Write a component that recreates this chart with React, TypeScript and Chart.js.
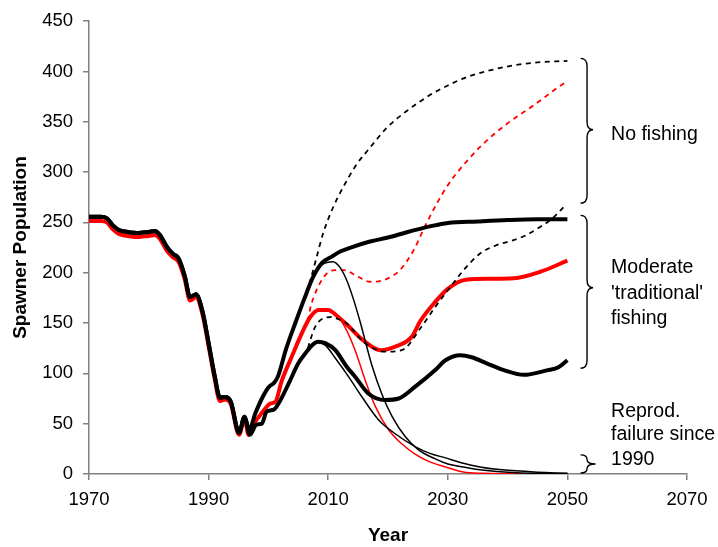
import React, { useEffect, useRef } from 'react';
import { Chart, registerables } from 'chart.js';

Chart.register(...registerables);

const FONT = '"Liberation Sans", Arial, Helvetica, sans-serif';

// Shared history, 1970–1996 (black = fitted stock, red = alternative fit)
const histYears = [1970, 1972, 1973, 1974, 1975, 1976, 1977, 1978, 1979, 1980, 1981, 1981.8, 1983, 1984, 1985, 1986, 1986.9, 1987.9, 1989, 1990, 1991, 1991.9, 1992.8, 1993.7, 1995.1, 1996];
const histBlack = [255.5, 255.5, 254, 247, 242.5, 241, 240, 239.5, 240, 240.5, 241.5, 238, 226, 219, 214, 197, 176, 178.5, 161, 130, 98, 76, 76.5, 72, 41, 57];
const histRed = [251.5, 251.5, 250, 243, 238.5, 237, 236, 235.5, 236, 236.5, 237.5, 234, 222, 215.5, 210.5, 193.5, 172.5, 175.5, 158, 127, 95, 72.5, 74, 69.5, 39, 55];

// Moderate fishing, high recruitment (thick black)
const highYears = [1996.8, 1997.8, 1999, 2000, 2001, 2001.6, 2003, 2004.5, 2006, 2007.5, 2009, 2010.6, 2012, 2014, 2017, 2020, 2023, 2027, 2030, 2035, 2040, 2045, 2050];
const highValues = [44, 60, 76, 86, 91, 97, 125, 150, 174, 196, 210, 216, 221, 225.5, 231, 235, 240, 246, 249.5, 251, 252.3, 253, 253];

// Moderate fishing, mid recruitment (thick red)
const midYears = [1996.7, 1997.5, 1998.3, 1999.2, 2000.3, 2001.2, 2002.2, 2003.9, 2005.6, 2007, 2008.4, 2010, 2011.3, 2013.2, 2015.8, 2018.8, 2021.2, 2024, 2025.4, 2027.9, 2030, 2033, 2037, 2041, 2045.5, 2050];
const midValues = [38.7, 50, 56, 63, 70, 72, 92, 116.5, 140, 156, 163, 163, 158, 148, 133, 123, 126.5, 136.5, 152, 171, 184, 193, 194, 194.5, 201, 212];

// Moderate fishing, low recruitment (thick black)
const lowYears = [1996.9, 1998, 1998.9, 1999.7, 2000.9, 2001.7, 2003.4, 2005, 2006.2, 2007.3, 2008.3, 2009.5, 2011.2, 2013.1, 2014.5, 2016.7, 2019.5, 2021.8, 2024.6, 2027.9, 2029.6, 2032.1, 2034, 2036.5, 2039.5, 2042.7, 2046.6, 2048.5, 2050];
const lowValues = [39, 49, 50, 62, 64, 70, 90, 110, 120, 128, 131.4, 130, 123, 106.6, 96.7, 80, 73.5, 75, 87, 103.3, 113, 118, 116, 110, 103, 98.5, 103, 106, 113];

// No fishing (dashed)
const noFishHighYears = [2006.4, 2007, 2008, 2009.2, 2010.9, 2012.5, 2014.8, 2017.1, 2019.8, 2023.2, 2027, 2030, 2033.2, 2037, 2041, 2045, 2050];
const noFishHighValues = [180, 192, 214, 240, 266, 285, 308, 325, 344, 361, 376.5, 386, 394.5, 401, 406, 409, 410.5];
const noFishMidYears = [2006.6, 2007, 2007.6, 2008.6, 2009.8, 2011.2, 2012.6, 2015, 2017, 2019.3, 2022, 2024.3, 2026.5, 2029.9, 2033.8, 2036, 2039.9, 2044.4, 2049.4, 2050];
const noFishMidValues = [152, 164.6, 176, 189.4, 199.4, 202.6, 202.6, 196, 191, 192.7, 202.6, 222.5, 250, 286, 315, 328.5, 348, 366.5, 388, 390];
const noFishLowYears = [2006.6, 2007, 2007.8, 2009.2, 2010.6, 2012, 2013.1, 2015.9, 2019.5, 2022.3, 2025.6, 2027.9, 2030.9, 2033, 2035.4, 2038, 2041, 2043, 2045.5, 2047.5, 2049.4];
const noFishLowValues = [125, 133, 146, 154.7, 156, 153, 149.7, 131.4, 121.5, 123, 146.3, 166, 189.4, 205, 219, 227, 232.4, 237, 245.7, 254, 265.5];

// Reproductive failure since 1990 (thin)
const failHighYears = [2007.5, 2009, 2010.8, 2012, 2013.2, 2014.2, 2015.4, 2016.2, 2017.3, 2019, 2020.7, 2022.9, 2025.1, 2027.9, 2030, 2032.6, 2035, 2038.2, 2043.8, 2050];
const failHighValues = [196, 208, 211, 205, 191, 174, 150, 132, 108, 79, 57, 37, 24, 15, 10, 7, 4.5, 2.5, 0.8, 0.4];
const failMidYears = [2008.4, 2009.6, 2011.2, 2012.8, 2014.5, 2016.2, 2017.9, 2020.1, 2022.3, 2024.6, 2026.8, 2029.6, 2032.6, 2036, 2040, 2050];
const failMidValues = [163, 162.5, 159, 146, 123, 93, 67, 44, 30, 19.5, 12.5, 7, 2, 0.7, 0.3, 0];
const failLowYears = [2008, 2009.5, 2011.2, 2013.4, 2015.6, 2018.4, 2021.2, 2024.6, 2027, 2029.6, 2032.6, 2035.4, 2038.2, 2043.8, 2049.4, 2050];
const failLowValues = [131, 128, 115, 96.7, 77, 54, 40, 27, 20.5, 16, 10.6, 7, 4.6, 2.3, 0.8, 0.7];

// Group annotations on the right: brace extents and label baselines (population units)
const groupLabels = [['No fishing'], ['Moderate', "'traditional'", 'fishing'], ['Reprod.', 'failure since', '1990']];
const braceTop = [413, 257, 19];
const braceBottom = [269, 105, 1];
const braceTip = [342, 185, 10];
const labelBaselines = [[331.8], [199.7, 173.8, 149], [56.9, 33.3, 8.9]];

const yearTicks = [1970, 1990, 2010, 2030, 2050, 2070];

const pts = (xs: number[], ys: number[]) => xs.map((x, i) => ({ x, y: ys[i] }));

function drawBrace(ctx: CanvasRenderingContext2D, xl: number, xs: number, xt: number, yt: number, ym: number, yb: number) {
  const r1 = Math.min(8, (ym - yt) / 2);
  const r2 = Math.min(8, (yb - ym) / 2);
  ctx.beginPath();
  ctx.moveTo(xl, yt);
  ctx.quadraticCurveTo(xs, yt, xs, yt + r1);
  ctx.lineTo(xs, ym - r1);
  ctx.quadraticCurveTo(xs, ym, xt, ym);
  ctx.quadraticCurveTo(xs, ym, xs, ym + r2);
  ctx.lineTo(xs, yb - r2);
  ctx.quadraticCurveTo(xs, yb, xl, yb);
  ctx.stroke();
}

const groupsPlugin = {
  id: 'scenarioGroups',
  afterDraw(chart: any) {
    const { ctx, scales } = chart;
    const xs = scales.x;
    const ys = scales.y;
    ctx.save();
    ctx.strokeStyle = '#000';
    ctx.lineWidth = 1.4;
    const xl = xs.getPixelForValue(2052.2);
    const xsp = xl + 6.5;
    for (let i = 0; i < groupLabels.length; i++) {
      const xt = xl + (i === 2 ? 15 : 12.5);
      drawBrace(ctx, xl, xsp, xt, ys.getPixelForValue(braceTop[i]), ys.getPixelForValue(braceTip[i]), ys.getPixelForValue(braceBottom[i]));
    }
    ctx.fillStyle = '#000';
    ctx.font = `19.5px ${FONT}`;
    ctx.textAlign = 'left';
    ctx.textBaseline = 'alphabetic';
    const tx = xs.getPixelForValue(2057.3);
    groupLabels.forEach((lines, i) => {
      lines.forEach((t, j) => ctx.fillText(t, tx, ys.getPixelForValue(labelBaselines[i][j])));
    });
    ctx.restore();
  },
};

export default function App() {
  const ref = useRef<HTMLCanvasElement | null>(null);

  useEffect(() => {
    document.body.style.margin = '0';
    const canvas = ref.current;
    if (!canvas) return;

    const thick = 4;
    const thin = 1.5;
    const dash = [5, 4.5];
    const base = { pointRadius: 0, pointHoverRadius: 0, fill: false, cubicInterpolationMode: 'monotone' as const };

    const chart = new Chart(canvas, {
      type: 'line',
      data: {
        datasets: [
          { ...base, label: 'Moderate fishing, high', data: pts([...histYears, ...highYears], [...histBlack, ...highValues]), borderColor: '#000', borderWidth: thick },
          { ...base, label: 'Moderate fishing, low', data: pts([...histYears, ...lowYears], [...histBlack, ...lowValues]), borderColor: '#000', borderWidth: thick },
          { ...base, label: 'Failure, high', data: pts(failHighYears, failHighValues), borderColor: '#000', borderWidth: thin },
          { ...base, label: 'Failure, low', data: pts(failLowYears, failLowValues), borderColor: '#000', borderWidth: thin },
          { ...base, label: 'No fishing, high', data: pts(noFishHighYears, noFishHighValues), borderColor: '#000', borderWidth: 1.8, borderDash: dash },
          { ...base, label: 'No fishing, low', data: pts(noFishLowYears, noFishLowValues), borderColor: '#000', borderWidth: 1.8, borderDash: dash },
          { ...base, label: 'Moderate fishing, mid', data: pts([...histYears, ...midYears], [...histRed, ...midValues]), borderColor: '#ff0000', borderWidth: thick },
          { ...base, label: 'Failure, mid', data: pts(failMidYears, failMidValues), borderColor: '#ff0000', borderWidth: thin },
          { ...base, label: 'No fishing, mid', data: pts(noFishMidYears, noFishMidValues), borderColor: '#ff0000', borderWidth: 1.8, borderDash: dash },
        ],
      },
      options: {
        animation: false,
        responsive: false,
        devicePixelRatio: 1,
        layout: { padding: { left: 0, right: 31, top: 21, bottom: 0 } },
        plugins: { legend: { display: false }, tooltip: { enabled: false } },
        scales: {
          x: {
            type: 'linear',
            min: 1970,
            max: 2070,
            afterFit: (s: any) => { s.height = 73; },
            afterBuildTicks: (s: any) => { s.ticks = yearTicks.map((v) => ({ value: v })); },
            ticks: { callback: (v: any) => String(v), color: '#000', font: { family: FONT, size: 18.5 }, padding: 9, maxRotation: 0, autoSkip: false },
            grid: { drawOnChartArea: false, drawTicks: true, tickLength: 6, color: '#808080', tickColor: '#808080', lineWidth: 1.5 },
            border: { display: true, color: '#808080', width: 1.5 },
            title: { display: true, text: 'Year', color: '#000', font: { family: FONT, size: 19, weight: 'bold' }, padding: { top: 0, bottom: 0 } },
          },
          y: {
            min: 0,
            max: 450,
            afterFit: (s: any) => { s.width = 89; },
            ticks: { stepSize: 50, color: '#000', font: { family: FONT, size: 18.5 }, padding: 10 },
            grid: { drawOnChartArea: false, drawTicks: true, tickLength: 6, color: '#808080', tickColor: '#808080', lineWidth: 1.5 },
            border: { display: true, color: '#808080', width: 1.5 },
            title: { display: true, text: 'Spawner Population', color: '#000', font: { family: FONT, size: 19, weight: 'bold' }, padding: { top: 9, bottom: 0 } },
          },
        },
      },
      plugins: [groupsPlugin],
    });

    return () => chart.destroy();
  }, []);

  return (
    <div style={{ width: 718, height: 547 }}>
      <canvas ref={ref} width={718} height={547} style={{ display: 'block' }} />
    </div>
  );
}
